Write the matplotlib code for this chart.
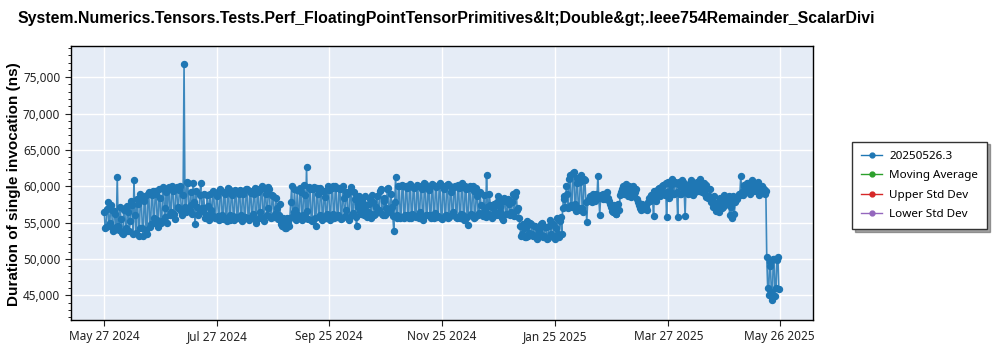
import numpy as np
import pandas as pd
import matplotlib
matplotlib.use("Agg")
import matplotlib.pyplot as plt
import matplotlib.dates as mdates
from matplotlib.ticker import MultipleLocator, FuncFormatter

TITLE = ("System.Numerics.Tensors.Tests.Perf_FloatingPointTensorPrimitives&lt;Double&gt;"
         ".Ieee754Remainder_ScalarDivi")
YLABEL = "Duration of single invocation (ns)"
SERIES = ["20250526.3", "Moving Average", "Upper Std Dev", "Lower Std Dev"]
SERIES_COLORS = ["#1f77b4", "#2ca02c", "#d62728", "#9467bd"]

START = "2024-05-27"
# two runs a day (morning / noon), microseconds, week by week
morning_us = [
    [56.5, 54.4, 57.8, 55.0, 56.8, 54.0, 56.2],
    [61.3, 54.0, 55.5, 53.4, 57.0, 53.8, 56.5],
    [55.2, 57.4, 60.8, 53.6, 57.6, 54.3, 58.1],
    [53.2, 58.6, 53.5, 59.2, 54.8, 59.4, 55.6],
    [59.0, 54.4, 58.4, 55.2, 59.6, 57.0, 55.0],
    [59.9, 56.5, 59.4, 55.5, 59.9, 57.2, 60.0],
    [56.0, 76.8, 56.4, 60.5, 56.8, 57.4, 60.4],
    [54.8, 57.2, 56.3, 60.4, 56.6, 57.0, 56.1],
    [57.3, 58.9, 56.0, 59.2, 55.6, 58.6, 55.4],
    [59.4, 55.5, 59.0, 55.2, 59.6, 56.0, 58.8],
    [55.4, 59.3, 55.6, 59.5, 55.2, 58.9, 55.8],
    [59.6, 55.3, 59.1, 56.2, 59.8, 55.0, 59.2],
    [56.4, 60.0, 55.2, 59.0, 57.0, 59.6, 55.6],
    [58.6, 56.2, 57.0, 56.0, 55.2, 54.6, 55.0],
    [54.3, 55.0, 55.6, 60.0, 56.4, 56.8, 59.5],
    [55.6, 59.2, 56.0, 58.8, 62.7, 55.5, 59.6],
    [55.2, 59.9, 54.6, 59.0, 56.0, 59.4, 55.8],
    [58.5, 56.2, 59.5, 55.9, 60.0, 55.7, 59.8],
    [56.0, 59.6, 55.6, 58.4, 56.8, 59.0, 55.4],
    [59.9, 56.3, 58.2, 54.5, 57.2, 56.6, 58.0],
    [56.0, 57.4, 56.4, 58.3, 55.6, 57.8, 56.2],
    [58.6, 56.8, 59.6, 56.1, 58.0, 57.0, 59.8],
    [56.4, 57.2, 53.9, 61.3, 55.6, 60.0, 55.8],
    [60.1, 56.0, 59.8, 55.6, 60.2, 56.2, 59.7],
    [55.8, 60.0, 56.4, 59.6, 55.4, 60.3, 56.0],
    [59.5, 55.6, 60.2, 56.3, 59.9, 55.9, 60.4],
    [55.5, 59.6, 56.0, 60.3, 55.8, 59.2, 56.4],
    [60.1, 55.6, 59.8, 56.2, 60.4, 55.4, 59.6],
    [54.7, 60.0, 56.0, 59.4, 55.8, 58.6, 56.3],
    [57.4, 55.9, 56.8, 61.6, 56.2, 57.4, 55.6],
    [57.6, 56.0, 58.6, 56.5, 57.8, 55.4, 58.0],
    [56.2, 57.6, 56.5, 58.9, 55.9, 59.2, 57.0],
    [54.6, 53.4, 54.2, 53.0, 55.2, 53.6, 54.8],
    [53.2, 54.6, 52.8, 54.0, 53.4, 55.0, 53.1],
    [54.4, 52.9, 55.3, 53.5, 54.8, 52.7, 55.6],
    [53.0, 55.8, 57.0, 58.7, 60.0, 57.0, 61.5],
    [57.2, 61.9, 56.6, 60.4, 57.0, 61.6, 56.4],
    [60.8, 55.1, 58.2, 58.5, 57.8, 58.4, 58.9],
    [61.4, 56.1, 58.6, 58.9, 58.3, 59.2, 58.0],
    [57.2, 56.4, 57.0, 56.2, 57.6, 58.8, 59.6],
    [59.0, 60.3, 58.6, 59.8, 58.5, 60.0, 59.2],
    [58.2, 57.4, 57.0, 57.6, 56.9, 57.2, 57.8],
    [58.0, 58.6, 55.9, 59.2, 58.8, 59.8, 59.4],
    [60.2, 58.8, 55.8, 60.6, 59.4, 61.0, 58.9],
    [60.4, 55.8, 60.0, 59.0, 60.6, 55.9, 60.2],
    [59.4, 60.8, 58.8, 60.2, 59.6, 60.0, 61.0],
    [59.2, 60.4, 58.5, 59.8, 58.6, 57.8, 57.2],
    [57.6, 56.8, 57.4, 58.4, 57.0, 58.8, 58.2],
    [57.5, 56.0, 55.6, 58.6, 57.8, 58.2, 59.0],
    [61.4, 58.8, 60.2, 59.6, 60.5, 59.0, 60.8],
    [59.4, 60.2, 59.6, 58.8, 59.6, 59.2, 59.0],
    [50.2, 45.0, 49.0, 44.4, 50.0, 46.0, 50.3],
]
noon_us = [
    [54.2, 56.9, 54.6, 57.4, 53.9, 56.6, 54.4],
    [54.6, 57.2, 53.6, 56.8, 54.2, 57.3, 53.9],
    [58.0, 53.4, 56.1, 58.3, 53.1, 58.9, 54.2],
    [58.0, 54.0, 59.0, 54.4, 58.8, 55.0, 59.3],
    [55.4, 59.6, 55.0, 59.9, 55.8, 59.2, 59.8],
    [56.0, 60.1, 56.2, 59.8, 57.0, 59.5, 56.6],
    [58.8, 57.2, 60.6, 56.6, 59.2, 56.2, 57.8],
    [59.4, 56.0, 58.8, 57.0, 59.0, 55.6, 58.8],
    [55.4, 56.8, 59.4, 55.6, 59.0, 55.9, 59.6],
    [56.0, 59.2, 55.6, 59.7, 55.4, 59.3, 55.9],
    [59.5, 55.8, 59.0, 56.0, 59.4, 55.6, 59.6],
    [55.6, 59.4, 55.8, 59.0, 55.4, 59.6, 55.7],
    [59.6, 55.6, 59.8, 56.0, 59.9, 55.8, 58.8],
    [55.8, 58.4, 55.5, 57.6, 54.8, 55.6, 54.2],
    [55.6, 54.6, 57.8, 55.9, 59.6, 55.4, 56.0],
    [59.8, 55.4, 60.2, 55.7, 56.6, 59.9, 55.3],
    [59.6, 55.6, 59.7, 55.8, 59.8, 55.4, 59.4],
    [55.6, 60.0, 55.4, 59.8, 56.2, 60.1, 55.8],
    [59.8, 55.5, 60.0, 55.9, 59.2, 55.6, 59.4],
    [56.0, 59.2, 55.8, 57.6, 58.6, 56.2, 57.0],
    [58.6, 55.8, 57.6, 56.2, 58.8, 56.0, 57.2],
    [56.6, 59.4, 56.2, 58.4, 56.0, 59.6, 56.4],
    [59.0, 55.9, 57.8, 56.0, 60.1, 55.7, 60.2],
    [55.7, 60.0, 56.0, 60.3, 55.6, 59.9, 55.9],
    [60.2, 55.6, 60.0, 55.8, 60.4, 56.0, 59.8],
    [56.0, 60.3, 55.7, 60.0, 55.8, 60.2, 55.6],
    [60.0, 55.9, 60.2, 55.6, 60.1, 56.0, 59.9],
    [55.8, 60.2, 55.6, 59.9, 56.0, 60.1, 55.8],
    [59.8, 56.2, 60.1, 55.6, 59.8, 56.0, 59.2],
    [56.2, 58.8, 55.8, 57.2, 59.0, 56.0, 57.0],
    [56.4, 57.8, 56.0, 57.2, 55.7, 58.4, 56.2],
    [58.2, 56.0, 57.8, 56.2, 58.6, 56.8, 55.6],
    [53.2, 54.8, 53.0, 54.4, 53.2, 54.9, 53.4],
    [54.6, 53.0, 54.2, 53.6, 54.8, 53.0, 54.4],
    [52.8, 54.6, 53.2, 54.9, 53.0, 54.2, 53.4],
    [55.2, 53.4, 58.2, 57.2, 58.9, 61.0, 57.4],
    [61.8, 57.6, 61.2, 56.8, 60.6, 57.0, 61.0],
    [57.8, 58.0, 58.6, 58.2, 58.9, 58.0, 58.4],
    [58.4, 58.8, 58.2, 58.6, 59.0, 58.4, 57.6],
    [56.6, 57.4, 56.2, 57.4, 56.8, 59.2, 60.1],
    [59.6, 58.9, 60.1, 59.2, 59.9, 58.8, 59.6],
    [57.8, 57.0, 56.8, 57.2, 57.4, 56.8, 58.4],
    [58.8, 58.2, 59.4, 58.0, 59.6, 58.6, 60.0],
    [59.0, 60.4, 59.2, 58.4, 60.2, 59.0, 60.6],
    [59.2, 60.6, 58.9, 60.8, 59.4, 60.2, 59.0],
    [60.4, 59.0, 60.0, 59.2, 60.6, 59.4, 59.6],
    [60.0, 59.0, 60.2, 58.4, 59.6, 58.2, 58.6],
    [56.6, 57.8, 56.4, 58.0, 57.2, 57.4, 57.8],
    [58.6, 57.2, 58.0, 56.2, 58.4, 58.6, 58.8],
    [59.2, 60.0, 59.4, 60.4, 59.6, 60.2, 59.6],
    [60.4, 59.8, 60.6, 59.2, 60.0, 59.6, 59.4],
    [46.0, 49.6, 45.4, 50.0, 44.9, 49.8, 45.8],
]
x_ticks = ["2024-05-27", "2024-07-27", "2024-09-25", "2024-11-25",
           "2025-01-25", "2025-03-27", "2025-05-26"]
x_range = ("2024-05-09", "2025-06-13")
y_range = (41600, 79300)

days = pd.date_range(START, periods=len(morning_us) * 7, freq="D")
runs = pd.concat([
    pd.DataFrame({"date": days + pd.Timedelta(hours=2),
                  "ns": np.array(morning_us).ravel() * 1000}),
    pd.DataFrame({"date": days + pd.Timedelta(hours=14),
                  "ns": np.array(noon_us).ravel() * 1000}),
]).sort_values("date")

fig = plt.figure(figsize=(10, 3.5), dpi=100)
ax = fig.add_axes([0.0707, 0.0857, 0.7423, 0.783])
ax.set_facecolor("#e5ecf6")
ax.set_axisbelow(True)
ax.grid(True, which="major", color="white", lw=1.0)

blue = SERIES_COLORS[0]
ax.plot(runs["date"], runs["ns"], color=blue, lw=1.2, alpha=0.85, zorder=2)
ax.plot(runs["date"], runs["ns"], ls="none", marker="o", ms=4.3, color=blue, zorder=3)

handles = []
for name, col in zip(SERIES, SERIES_COLORS):
    h, = ax.plot([], [], color=col, lw=1.0, marker="o", ms=3.5, label=name)
    handles.append(h)

sans = ["Noto Sans", "DejaVu Sans"]
ax.set_xlim(pd.Timestamp(x_range[0]), pd.Timestamp(x_range[1]))
ax.set_ylim(*y_range)
ax.set_xticks([pd.Timestamp(d) for d in x_ticks])
ax.xaxis.set_major_formatter(mdates.DateFormatter("%b %d %Y"))
ax.yaxis.set_major_locator(MultipleLocator(5000))
ax.yaxis.set_minor_locator(MultipleLocator(1000))
ax.yaxis.set_major_formatter(FuncFormatter(lambda v, p: f"{v:,.0f}"))
ax.tick_params(axis="both", labelsize=8.5, colors="#222222", length=4)
ax.tick_params(axis="y", which="minor", length=2.5)
for lbl in ax.get_xticklabels() + ax.get_yticklabels():
    lbl.set_fontfamily(sans)
for s in ax.spines.values():
    s.set_color("black")
    s.set_linewidth(1.0)

fig.text(0.018, 0.948, TITLE, fontsize=11.4, fontweight="bold", va="center",
         ha="left", family="Liberation Sans")
fig.text(0.014, 0.474, YLABEL, fontsize=11, fontweight="bold", rotation=90,
         va="center", ha="center", family="Liberation Sans")

leg = fig.legend(handles=handles, loc="upper left", bbox_to_anchor=(0.846, 0.612),
                 prop={"family": sans, "size": 8.4},
                 frameon=True, fancybox=False, shadow=True,
                 edgecolor="#333333", handlelength=1.8, borderpad=0.8,
                 labelspacing=0.7, handletextpad=0.6)

fig.savefig("out.png", dpi=100)
